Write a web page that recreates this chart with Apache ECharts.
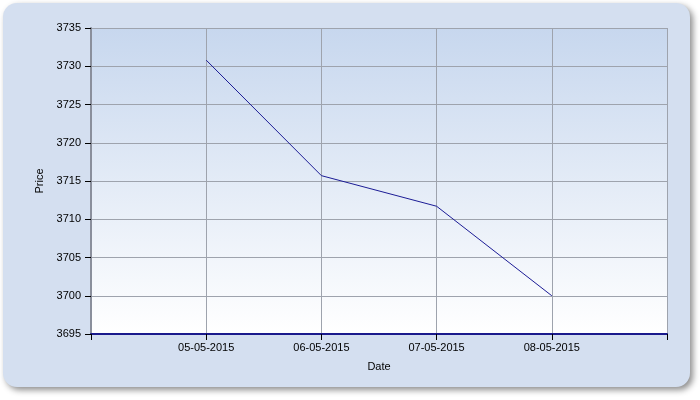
<!DOCTYPE html>
<html>
<head>
<meta charset="utf-8">
<script src="https://cdn.jsdelivr.net/npm/echarts@6/dist/echarts.min.js"></script>
<style>
html,body{margin:0;padding:0;background:#fff;}
#main{width:700px;height:400px;}
</style>
</head>
<body>
<div id="main"></div>
<script>
// 数据
var dates = ['', '05-05-2015', '06-05-2015', '07-05-2015', '08-05-2015', ''];
var prices = [null, 3730.8, 3715.7, 3711.7, 3700, null];
var yTicks = [3695, 3700, 3705, 3710, 3715, 3720, 3725, 3730, 3735];

var myChart = echarts.init(document.getElementById('main'));
var font = 'Liberation Sans, Arial, sans-serif';
var option = {
	animation: false,
	backgroundColor: '#fff',
	graphic: [{
		type: 'rect',
		z: -10,
		shape: {x: 3, y: 3, width: 687, height: 384, r: 14},
		style: {
			fill: '#d4dff0',
			shadowBlur: 6,
			shadowOffsetX: 3,
			shadowOffsetY: 3,
			shadowColor: 'rgba(0,0,0,0.45)'
		}
	}],
	grid: {
		left: 91,
		right: 33,
		top: 28,
		bottom: 66,
		show: true,
		borderWidth: 0,
		backgroundColor: {
			type: 'linear', x: 0, y: 0, x2: 0, y2: 1,
			colorStops: [{offset: 0, color: '#c7d7ee'}, {offset: 1, color: '#ffffff'}]
		}
	},
	xAxis: {
		type: 'category',
		boundaryGap: false,
		data: dates,
		name: 'Date',
		nameLocation: 'middle',
		nameGap: 27,
		nameTextStyle: {color: '#000', fontFamily: font, fontSize: 11},
		axisLine: {lineStyle: {color: '#1a1a8c', width: 2}},
		axisTick: {length: 6, lineStyle: {color: '#000'}},
		axisLabel: {color: '#000', fontFamily: font, fontSize: 11, margin: 8, interval: 0},
		splitLine: {show: true, lineStyle: {color: '#9ea3ad', width: 1}}
	},
	yAxis: {
		type: 'value',
		min: yTicks[0],
		max: yTicks[yTicks.length - 1],
		interval: 5,
		name: 'Price',
		nameLocation: 'middle',
		nameGap: 35,
		nameTextStyle: {color: '#000', fontFamily: font, fontSize: 11},
		axisLine: {show: true, lineStyle: {color: '#8a8f9c', width: 2}},
		axisTick: {show: true, length: 6, lineStyle: {color: '#000'}},
		axisLabel: {
			color: '#000', fontFamily: font, fontSize: 11, margin: 10,
			formatter: function (v) { return String(v); }
		},
		splitLine: {show: true, lineStyle: {color: '#9ea3ad', width: 1}}
	},
	series: [{
		type: 'line',
		data: prices,
		showSymbol: false,
		symbol: 'none',
		lineStyle: {color: '#1c1c96', width: 1}
	}]
};
myChart.setOption(option);
</script>
</body>
</html>
